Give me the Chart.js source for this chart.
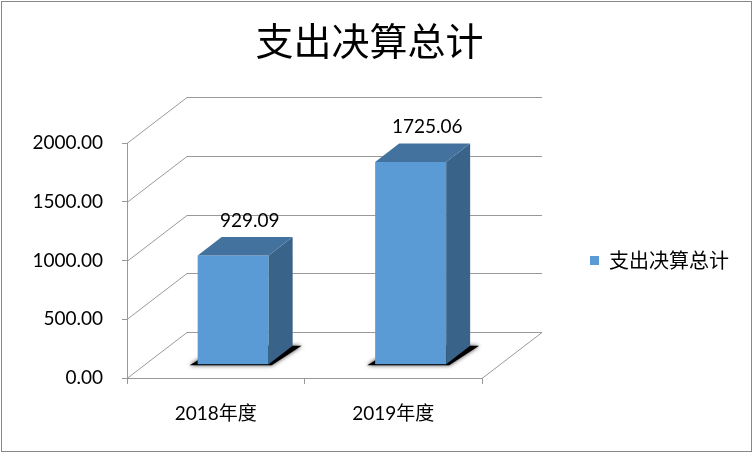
<!DOCTYPE html>
<html>
  <head>
    <meta charset="utf-8"/>
    <script type="text/javascript" src="https://cdn.jsdelivr.net/npm/chart.js@4.4.1/dist/chart.umd.min.js"></script>
    <style>
      html, body { margin: 0; padding: 0; background: #fff; }
    </style>
  </head>
  <body>
    <canvas id="chart-area" width="753" height="453"></canvas>
    <script type="text/javascript">
      // data
      var years = ['2018年度', '2019年度'];
      var spending = [929.09, 1725.06];
      var yTicks = [0, 500, 1000, 1500, 2000];
      var seriesName = '支出决算总计';

      // fake 3d: how far the back wall sits from the front plane,
      // and where the bars sit inside that depth
      var DEPTH = {x: 60, y: -46};
      var BAR_NEAR = 0.29, BAR_FAR = 0.69;

      var latin = 'Lato, "Noto Sans CJK SC", sans-serif';
      var cjk = '"Noto Sans CJK SC", sans-serif';

      function line(ctx, x1, y1, x2, y2) {
        ctx.beginPath();
        ctx.moveTo(x1, y1);
        ctx.lineTo(x2, y2);
        ctx.stroke();
      }
      function poly(ctx, pts) {
        ctx.beginPath();
        ctx.moveTo(pts[0][0], pts[0][1]);
        for (var i = 1; i < pts.length; i++) ctx.lineTo(pts[i][0], pts[i][1]);
        ctx.closePath();
        ctx.fill();
      }
      function barBox(bar) {
        var p = bar.getProps(['x', 'y', 'base', 'width'], true);
        var nx = DEPTH.x * BAR_NEAR, ny = DEPTH.y * BAR_NEAR;
        return {
          l: p.x - p.width / 2 + nx, r: p.x + p.width / 2 + nx,
          t: p.y + ny, b: p.base + ny,
          dx: DEPTH.x * (BAR_FAR - BAR_NEAR), dy: DEPTH.y * (BAR_FAR - BAR_NEAR),
          cx: p.x, cy: p.y
        };
      }

      var fake3d = {
        id: 'fake3d',
        beforeDatasetsDraw: function(chart) {
          var ctx = chart.ctx, a = chart.chartArea, ys = chart.scales.y;
          ctx.save();
          ctx.strokeStyle = '#999';
          ctx.lineWidth = 1;
          // side wall diagonals + back wall grid
          yTicks.forEach(function(v) {
            var py = Math.round(ys.getPixelForValue(v)) + 0.5;
            line(ctx, a.left, py, a.left + DEPTH.x, py + DEPTH.y);
            line(ctx, a.left + DEPTH.x, py + DEPTH.y, a.right + DEPTH.x, py + DEPTH.y);
          });
          // right edge of the floor
          var by = Math.round(ys.getPixelForValue(0)) + 0.5;
          line(ctx, a.right, by, a.right + DEPTH.x, by + DEPTH.y);

          // shadows under the bars
          ctx.fillStyle = '#000';
          ctx.shadowColor = 'rgba(0,0,0,0.8)';
          ctx.shadowBlur = 4;
          chart.getDatasetMeta(0).data.forEach(function(bar) {
            var b = barBox(bar);
            poly(ctx, [[b.l - 8, b.b + 1], [b.r + 3, b.b + 1],
                       [b.r + b.dx + 9, b.b + b.dy], [b.l + b.dx, b.b + b.dy]]);
          });
          ctx.restore();

          // front faces are drawn by chart.js, pushed back into the box
          ctx.save();
          ctx.translate(DEPTH.x * BAR_NEAR, DEPTH.y * BAR_NEAR);
        },
        afterDatasetsDraw: function(chart) {
          var ctx = chart.ctx;
          ctx.restore();
          ctx.save();
          chart.getDatasetMeta(0).data.forEach(function(bar, i) {
            var b = barBox(bar);
            ctx.fillStyle = '#3A6389';
            poly(ctx, [[b.r, b.t], [b.r + b.dx, b.t + b.dy], [b.r + b.dx, b.b + b.dy], [b.r, b.b]]);
            ctx.fillStyle = '#44729F';
            poly(ctx, [[b.l, b.t], [b.l + b.dx, b.t + b.dy], [b.r + b.dx, b.t + b.dy], [b.r, b.t]]);

            ctx.fillStyle = '#000';
            ctx.font = '19px ' + latin;
            ctx.textAlign = 'center';
            ctx.textBaseline = 'middle';
            ctx.fillText(spending[i].toFixed(2), b.cx + 34, b.cy - 48);
          });
          ctx.restore();
        },
        afterDraw: function(chart) {
          var ctx = chart.ctx;
          ctx.save();
          ctx.strokeStyle = '#888';
          ctx.lineWidth = 1;
          ctx.strokeRect(1.5, 1.5, chart.width - 3, chart.height - 3);
          ctx.restore();
        }
      };

      var ctx = document.getElementById('chart-area').getContext('2d');
      var chart = new Chart(ctx, {
        type: 'bar',
        data: {
          labels: years,
          datasets: [{
            label: seriesName,
            data: spending,
            backgroundColor: '#5B9BD5',
            borderWidth: 0,
            barPercentage: 0.4,
            categoryPercentage: 1
          }]
        },
        options: {
          responsive: false,
          animation: false,
          events: [],
          layout: { padding: { top: 0, left: 0, right: 14, bottom: 0 } },
          plugins: {
            title: {
              display: true,
              text: seriesName,
              color: '#000',
              font: { family: cjk, size: 38, weight: 'normal' },
              padding: { top: 18, bottom: 79.4 }
            },
            legend: {
              position: 'right',
              fullSize: false,
              maxWidth: 300,
              labels: {
                boxWidth: 9,
                boxHeight: 9,
                padding: 108,
                color: '#000',
                font: { family: cjk, size: 20 }
              }
            },
            tooltip: { enabled: false }
          },
          scales: {
            x: {
              grid: { drawOnChartArea: false, drawTicks: true, tickLength: 6, color: '#999' },
              border: { display: true, color: '#999' },
              ticks: { color: '#000', padding: 18, font: { family: latin, size: 19 } },
              afterFit: function(s) { s.height = 75; }
            },
            y: {
              min: 0,
              max: 2000,
              grid: { drawOnChartArea: false, drawTicks: true, tickLength: 5, color: '#999' },
              border: { display: true, color: '#999' },
              afterBuildTicks: function(s) {
                s.ticks = yTicks.map(function(v) { return {value: v}; });
              },
              ticks: {
                color: '#000',
                padding: 19,
                font: { family: latin, size: 19 },
                callback: function(v) { return Number(v).toFixed(2); }
              },
              afterFit: function(s) { s.width = 127; }
            }
          }
        },
        plugins: [fake3d]
      });
    </script>
  </body>
</html>
